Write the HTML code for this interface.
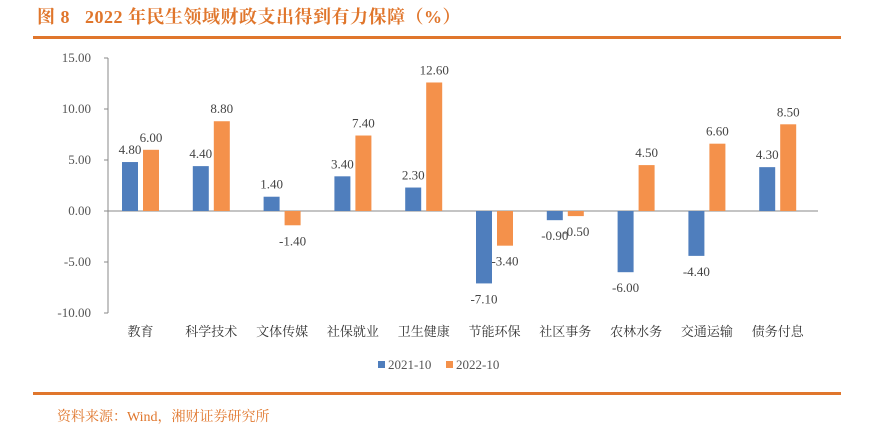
<!DOCTYPE html>
<html><head><meta charset="utf-8"><style>
body{margin:0;width:870px;height:416px;background:#fff;overflow:hidden;font-family:"Liberation Serif","Noto Serif CJK SC",serif;position:relative}
.t{position:absolute;left:37px;top:3px;font-size:18px;color:#e0762c;font-family:"Liberation Serif","Noto Serif CJK SC",serif;font-weight:bold;letter-spacing:0.5px}
.ln{position:absolute;left:33px;width:808px;height:3px;background:#e0762c}
.src{position:absolute;left:57px;top:406px;font-size:14px;color:#e0762c}
</style></head><body>
<div class="t">图 8&nbsp;&nbsp; 2022 年民生领域财政支出得到有力保障（%）</div>
<div class="ln" style="top:36px"></div>
<svg id="c" width="870" height="416" style="position:absolute;left:0;top:0"></svg>
<div class="ln" style="top:392px"></div>
<div class="src">资料来源：Wind，湘财证券研究所</div>
<script>
const categories=["教育","科学技术","文体传媒","社保就业","卫生健康","节能环保","社区事务","农林水务","交通运输","债务付息"];
const s2021=[4.8,4.4,1.4,3.4,2.3,-7.1,-0.9,-6.0,-4.4,4.3];
const s2022=[6.0,8.8,-1.4,7.4,12.6,-3.4,-0.5,4.5,6.6,8.5];
const ticks=[15,10,5,0,-5,-10];
const svg=document.getElementById('c');const NS='http://www.w3.org/2000/svg';
const x0=108,c0=140.5,step=70.8,yTop=58,yBot=313,vmax=15,vmin=-10;
const y=v=>yTop+(vmax-v)/(vmax-vmin)*(yBot-yTop);
function mk(t,a,txt){const e=document.createElementNS(NS,t);for(const k in a)e.setAttribute(k,a[k]);if(txt!=null)e.textContent=txt;svg.appendChild(e);return e;}
let ax=mk('line',{x1:x0,y1:yTop,x2:x0,y2:yBot,stroke:'#888','stroke-width':1});

ticks.forEach(v=>{const l=mk('line',{x1:x0-4,x2:x0,y1:y(v),y2:y(v),stroke:'#888'});

const t=mk('text',{x:x0-17,y:y(v)+4,'text-anchor':'end','font-size':13,fill:'#555'},v.toFixed(2));
});
let za=mk('line',{x1:x0,y1:y(0),x2:818,y2:y(0),stroke:'#888'});

const bw=16;
function bar(v,cx,col,nm){const top=Math.min(y(v),y(0)),h=Math.abs(y(v)-y(0));
const r=mk('rect',{x:cx-bw/2,y:top,width:bw,height:h,fill:col});

const ly=v>=0?y(v)-8:y(v)+20;
const t=mk('text',{x:cx,y:ly,'text-anchor':'middle','font-size':13,fill:'#444'},v.toFixed(2));
}
categories.forEach((c,i)=>{const cx=c0+step*i;
bar(s2021[i],cx-10.5,'#4f7ebd','bar-2021');bar(s2022[i],cx+10.5,'#f4914b','bar-2022');
const t=mk('text',{x:cx,y:336,'text-anchor':'middle','font-size':13,fill:'#333','font-family':'"Noto Serif CJK SC",serif'},c);
});
[[378,'#4f7ebd','2021-10'],[446,'#f4914b','2022-10']].forEach(([lx,col,txt])=>{
const r=mk('rect',{x:lx,y:361,width:7,height:7,fill:col});

const t=mk('text',{x:lx+10,y:369,'font-size':13,fill:'#555'},txt);
});
</script>
</body></html>
